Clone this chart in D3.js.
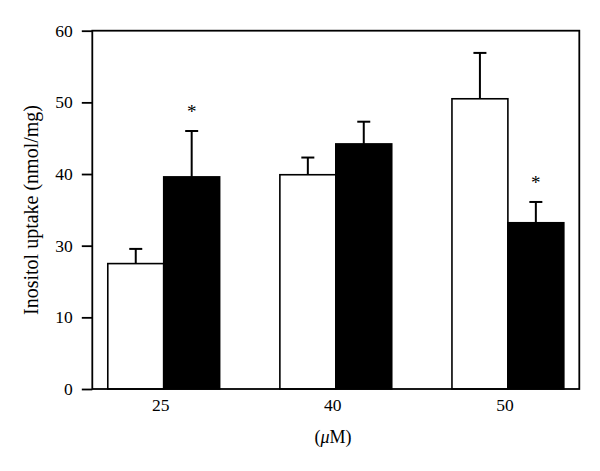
<!DOCTYPE html>
<html>
<head>
<meta charset="utf-8">
<script src="https://cdn.jsdelivr.net/npm/d3@7"></script>
<style>
  html, body { margin: 0; padding: 0; background: #fff; }
  svg { display: block; }
  text { font-family: "Liberation Serif", "Times New Roman", serif; fill: #000; }
</style>
</head>
<body>
<svg id="chart" width="600" height="471"></svg>
<script>
// ---- data ----
const categories = ["25", "40", "50"];
const seriesNames = ["open", "filled"];
const openValues = [25.0, 39.9, 50.5];
const openErrors = [4.1, 2.4, 6.4];
const filledValues = [39.6, 44.2, 33.2];
const filledErrors = [6.4, 3.1, 2.9];
const filledSignificant = [true, false, true];
const yTickValues = [0, 10, 30, 40, 50, 60];
const yTickLabels = ["0", "10", "30", "40", "50", "60"];
const xTitle = "(μM)";
const yTitle = "Inositol uptake (nmol/mg)";

(function () {
// ---- layout ----
const svg = d3.select("#chart");
const W = 600, H = 471;
svg.append("rect").attr("width", W).attr("height", H).attr("fill", "#fff");
const pLeft = 92.3, pRight = 579.3, pTop = 30.7, pBottom = 389;

const x0 = d3.scaleBand().domain(categories).range([pLeft, pRight])
  .paddingInner(0.35).paddingOuter(0.09);
const x1 = d3.scaleBand().domain(seriesNames).range([0, x0.bandwidth()]).padding(0);

// evenly spaced tick positions, as in the reference
const step = (pBottom - pTop) / (yTickValues.length - 1);
const y = d3.scaleLinear().domain(yTickValues)
  .range(yTickValues.map((d, i) => pBottom - i * step));

const rows = categories.map((c, i) => ({
  cat: c,
  bars: [
    { key: "open", v: openValues[i], e: openErrors[i], sig: false },
    { key: "filled", v: filledValues[i], e: filledErrors[i], sig: filledSignificant[i] }
  ]
}));

const g = svg.append("g");
const groups = g.selectAll("g.grp").data(rows).join("g")
  .attr("class", "grp")
  .attr("transform", d => `translate(${x0(d.cat)},0)`);

// error bars
const capW = 13;
groups.selectAll("g.err").data(d => d.bars).join("g").attr("class", "err")
  .each(function (d) {
    const cx = x1(d.key) + x1.bandwidth() / 2;
    const sel = d3.select(this);
    sel.append("line").attr("x1", cx).attr("x2", cx)
      .attr("y1", y(d.v)).attr("y2", y(d.v + d.e))
      .attr("stroke", "#000").attr("stroke-width", 2);
    sel.append("line").attr("x1", cx - capW / 2).attr("x2", cx + capW / 2)
      .attr("y1", y(d.v + d.e)).attr("y2", y(d.v + d.e))
      .attr("stroke", "#000").attr("stroke-width", 2);
    if (d.sig) {
      sel.append("text").attr("x", cx).attr("y", y(d.v + d.e) - 13)
        .attr("text-anchor", "middle").attr("font-size", 19).text("*");
    }
  });

groups.selectAll("rect.bar").data(d => d.bars).join("rect")
  .attr("class", "bar")
  .attr("x", d => x1(d.key))
  .attr("width", x1.bandwidth())
  .attr("y", d => y(d.v))
  .attr("height", d => pBottom - y(d.v))
  .attr("fill", d => d.key === "open" ? "#fff" : "#000")
  .attr("stroke", "#000").attr("stroke-width", 1.6);

// frame
svg.append("rect").attr("x", pLeft).attr("y", pTop)
  .attr("width", pRight - pLeft).attr("height", pBottom - pTop)
  .attr("fill", "none").attr("stroke", "#000").attr("stroke-width", 1.8);

// y axis
const yAxis = d3.axisLeft(y).tickValues(yTickValues)
  .tickFormat((d, i) => yTickLabels[i]).tickSize(10.5).tickPadding(9);
const yg = svg.append("g").attr("transform", `translate(${pLeft},0)`).call(yAxis);
yg.select(".domain").remove();
yg.selectAll(".tick line").attr("stroke", "#000").attr("stroke-width", 1.8);
yg.selectAll(".tick text").attr("font-family", "Liberation Serif, serif")
  .attr("font-size", 17.5).attr("fill", "#000");

// x axis labels
const xAxis = d3.axisBottom(x0).tickSize(0).tickPadding(10);
const xg = svg.append("g").attr("transform", `translate(-3,${pBottom})`).call(xAxis);
xg.select(".domain").remove();
xg.selectAll(".tick text").attr("font-family", "Liberation Serif, serif")
  .attr("font-size", 17.5).attr("fill", "#000");

// titles
const xt = svg.append("text").attr("x", 333).attr("y", 443)
  .attr("text-anchor", "middle").attr("font-size", 18);
xt.append("tspan").text("(");
xt.append("tspan").attr("font-style", "italic").text("μ");
xt.append("tspan").text("M)");

svg.append("text")
  .attr("transform", `translate(37.5,210) rotate(-90)`)
  .attr("text-anchor", "middle").attr("font-size", 20)
  .text(yTitle);
})();
</script>
</body>
</html>
